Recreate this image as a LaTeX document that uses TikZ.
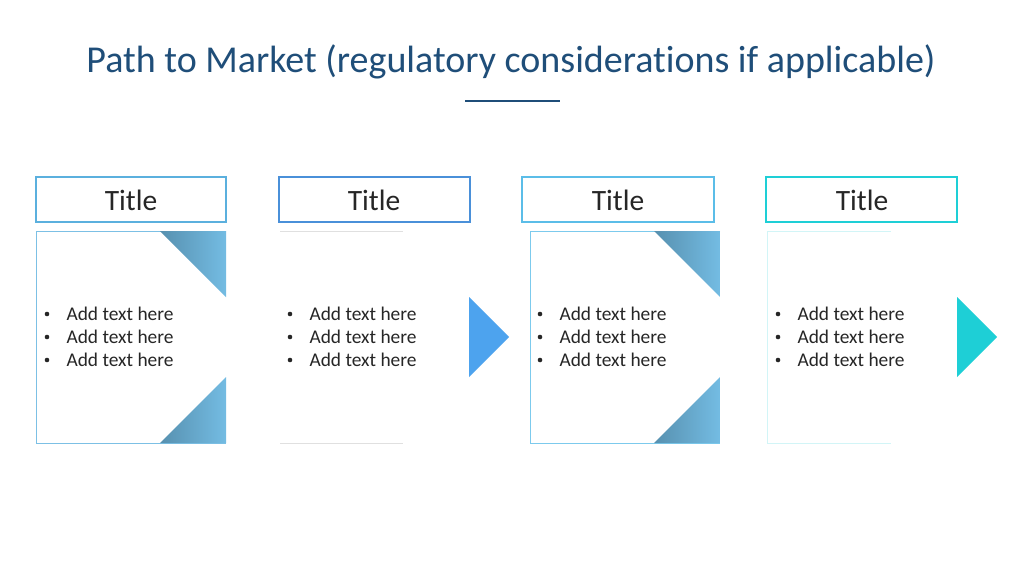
\documentclass[tikz,border=0pt]{standalone}
\usepackage{fontspec}
\setmainfont[Ligatures=NoCommon]{Carlito}
\begin{document}
\begin{tikzpicture}[x=1pt,y=-1pt,
  tbox/.style={draw=#1,line width=2.2pt,fill=white},
  ttext/.style={font=\fontsize{29.5}{34}\selectfont,text=black!85},
  btext/.style={font=\fontsize{19.4}{23}\selectfont,text=black!85,align=left,anchor=west},
  thin/.style={draw=#1,line width=0.6pt}]
\useasboundingbox (0,0) rectangle (1024,576);
\fill[white] (0,0) rectangle (1024,576);
\definecolor{navy}{HTML}{1F4E79}
\definecolor{cA}{HTML}{5BB0DE}
\definecolor{cB}{HTML}{4A90D9}
\definecolor{cC}{HTML}{5BBDE8}
\definecolor{cD}{HTML}{1ECFD6}
\definecolor{arrB}{HTML}{4DA3EE}
\node[text=navy,font=\fontsize{38}{44}\selectfont] (head) at (511,62) {Path to Market (regulatory considerations if applicable)};
\draw[navy,line width=2.5pt] (465,101) -- (560,101);
% titles
\draw[tbox=cA] (36,177) rectangle (226,222); \node[ttext] (t1) at (131,200) {Title};
\draw[tbox=cB] (279,177) rectangle (470,222); \node[ttext] (t2) at (374,200) {Title};
\draw[tbox=cC] (522,177) rectangle (714,222); \node[ttext] (t3) at (618,200) {Title};
\draw[tbox=cD] (766,177) rectangle (957,222); \node[ttext] (t4) at (862,200) {Title};
% panel 1
\draw[thin=cA!80] (226,231) -- (36,231) -- (36,443) -- (226,443);
\shade[left color=cA!75!black!90,right color=cA!85] (160,231) -- (226,231) -- (226,297) -- cycle;
\shade[left color=cA!75!black!90,right color=cA!85] (160,443) -- (226,443) -- (226,377) -- cycle;
% panel 2
\draw[thin=black!12] (280,231) -- (403,231) (280,443) -- (403,443);
\fill[arrB] (469,297) -- (469,377) -- (509,337) -- cycle;
% panel 3
\draw[thin=cC!80] (720,231) -- (530,231) -- (530,443) -- (720,443);
\shade[left color=cA!75!black!90,right color=cA!85] (654,231) -- (720,231) -- (720,297) -- cycle;
\shade[left color=cA!75!black!90,right color=cA!85] (654,443) -- (720,443) -- (720,377) -- cycle;
% panel 4
\draw[thin=cD!20] (767,231) -- (891,231) (767,443) -- (891,443) (767,231) -- (767,443);
\fill[cD] (957,297) -- (957,377) -- (997,337) -- cycle;
% bullets
\foreach \bx/\n in {47/1,290/2,540/3,778/4}{
  \foreach \yy in {314,337,360}{
    \fill[black!85] (\bx,\yy) circle (2.3);
    \node[btext] at (\bx+16,\yy) {Add text here};
  }
}
\end{tikzpicture}
\end{document}
